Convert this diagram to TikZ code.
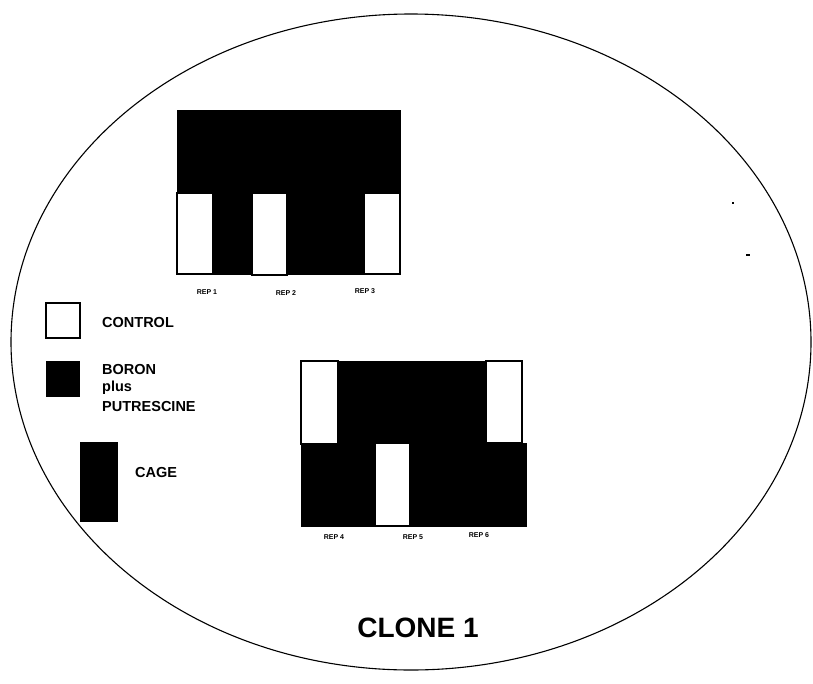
\documentclass[tikz,border=0pt]{standalone}
\usepackage{fontspec}
\setmainfont{Liberation Sans}
\begin{document}
\begin{tikzpicture}[x=1pt,y=-1pt,
  whitebar/.style={fill=white,draw=black,line width=1.2pt},
  blackbar/.style={fill=black,draw=black,line width=1pt},
  legtext/.style={anchor=base west,inner sep=0pt,font=\bfseries\fontsize{14.5}{17}\selectfont},
  replabel/.style={inner sep=0pt,font=\bfseries\fontsize{7}{8}\selectfont}]
\useasboundingbox (0,0) rectangle (813,683);
% plate
\draw[line width=1.1pt] (411,342) ellipse [x radius=400, y radius=328];
% top block
\fill[blackbar] (177,110) rectangle (400,274);
\draw[whitebar] (177,193) rectangle (213,274);
\draw[whitebar] (252,193) rectangle (287,275);
\draw[whitebar] (364,193) rectangle (400,274);
\node[replabel] (r1) at (207,292) {REP 1};
\node[replabel] (r2) at (286,293) {REP 2};
\node[replabel] (r3) at (365,291) {REP 3};
% bottom block
\fill[blackbar] (301,361) rectangle (522,444);
\fill[blackbar] (301,443) rectangle (526,526);
\draw[whitebar] (301,361) rectangle (338,444);
\draw[whitebar] (486,361) rectangle (522,443);
\draw[whitebar] (375,443) rectangle (410,526);
\draw[line width=1pt] (301,361) rectangle (522,443);
\node[replabel] (r4) at (334,537) {REP 4};
\node[replabel] (r5) at (413,537) {REP 5};
\node[replabel] (r6) at (479,535) {REP 6};
% legend
\draw[whitebar] (46,303) rectangle (80,338);
\node[legtext] (lc) at (102,327) {CONTROL};
\fill[black] (46,361) rectangle (80,397);
\node[legtext] (lb1) at (102,374) {BORON};
\node[legtext] (lb2) at (102,391) {plus};
\node[legtext] (lb3) at (102,411) {PUTRESCINE};
\fill[black] (80,442) rectangle (118,522);
\node[legtext] (lg) at (135,477) {CAGE};
% title
\node[inner sep=0pt,font=\bfseries\fontsize{28}{32}\selectfont] (title) at (418,628) {CLONE 1};
% specks
\fill[black] (732,202) rectangle (734,204);
\fill[black] (746,254) rectangle (750,256);
\end{tikzpicture}
\end{document}
